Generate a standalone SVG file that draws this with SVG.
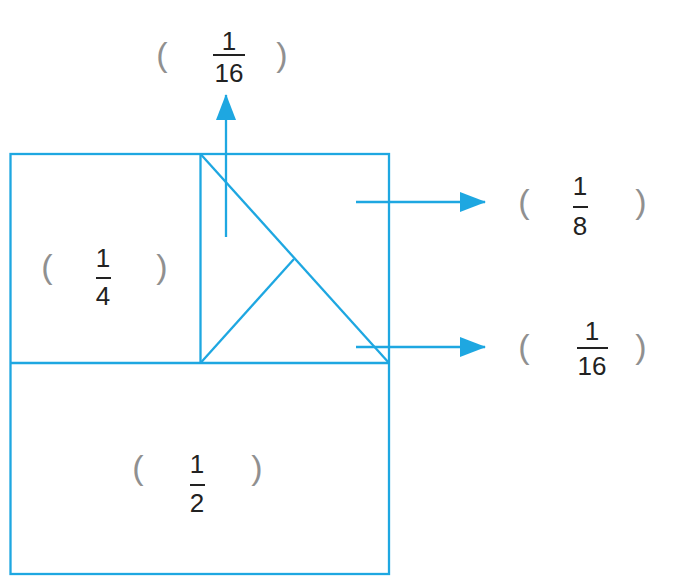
<svg xmlns="http://www.w3.org/2000/svg" width="673" height="584" viewBox="0 0 673 584">
<style>
.ln{stroke:#1ea7e1;stroke-width:2.3;fill:none}
.num{font-family:"Liberation Sans",Arial,sans-serif;font-size:26px;fill:#222;text-anchor:middle}
.par{font-family:"Liberation Sans",Arial,sans-serif;font-size:34px;fill:#909090;text-anchor:middle}
.bar{stroke:#222;stroke-width:2}
</style>
<defs>
<marker id="ah" markerWidth="26" markerHeight="20" refX="25" refY="10" orient="auto" markerUnits="userSpaceOnUse">
<path d="M0,0 L26,10 L0,20 Z" fill="#1ea7e1"/>
</marker>
</defs>
<g id="figure">
<rect class="ln" x="10.5" y="154" width="378.5" height="420"/>
<line class="ln" x1="10.5" y1="363" x2="389" y2="363"/>
<line class="ln" x1="200.5" y1="154" x2="200.5" y2="363"/>
<line class="ln" x1="200.5" y1="154" x2="389" y2="363"/>
<line class="ln" x1="200.5" y1="363" x2="294" y2="259"/>
</g>
<g id="connectors">
<line class="ln" x1="226" y1="237" x2="226" y2="95" marker-end="url(#ah)"/>
<line class="ln" x1="356" y1="202" x2="485" y2="202" marker-end="url(#ah)"/>
<line class="ln" x1="356" y1="347" x2="485" y2="347" marker-end="url(#ah)"/>
</g>
<g id="label-top">
<text class="par" x="162" y="66">(</text>
<text class="par" x="282" y="66">)</text>
<text class="num" x="229" y="50">1</text>
<line class="bar" x1="213" y1="55" x2="245" y2="55"/>
<text class="num" x="229" y="82">16</text>
</g>
<g id="label-eighth">
<text class="par" x="524" y="213">(</text>
<text class="par" x="641" y="213">)</text>
<text class="num" x="580" y="195">1</text>
<line class="bar" x1="573" y1="207" x2="588" y2="207"/>
<text class="num" x="580" y="235">8</text>
</g>
<g id="label-sixteenth">
<text class="par" x="524" y="358">(</text>
<text class="par" x="641" y="358">)</text>
<text class="num" x="592" y="340">1</text>
<line class="bar" x1="577" y1="348" x2="608" y2="348"/>
<text class="num" x="592" y="375">16</text>
</g>
<g id="label-quarter">
<text class="par" x="47" y="278">(</text>
<text class="par" x="162" y="278">)</text>
<text class="num" x="103" y="267">1</text>
<line class="bar" x1="96" y1="278" x2="111" y2="278"/>
<text class="num" x="103" y="305">4</text>
</g>
<g id="label-half">
<text class="par" x="138" y="479">(</text>
<text class="par" x="257" y="479">)</text>
<text class="num" x="197" y="473">1</text>
<line class="bar" x1="190" y1="485" x2="205" y2="485"/>
<text class="num" x="197" y="512">2</text>
</g>
</svg>
